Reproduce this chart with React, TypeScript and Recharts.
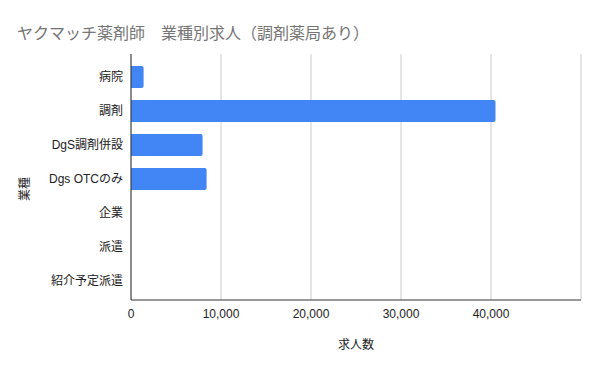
import * as React from 'react';
import { BarChart, Bar, XAxis, YAxis, CartesianGrid } from 'recharts';

const categories = ['病院', '調剤', 'DgS調剤併設', 'Dgs OTCのみ', '企業', '派遣', '紹介予定派遣'];
const jobCounts = [1400, 40500, 7950, 8400, 0, 0, 0];
const xTicks = [0, 10000, 20000, 30000, 40000, 50000];

const FONT = '"Liberation Sans", Arial, "Noto Sans CJK JP", sans-serif';

function formatTick(value: number): string {
  // the last gridline has no label in the original
  if (value === 50000) return '';
  return value.toLocaleString('en-US');
}

function YTitle() {
  // sits a bit below the plot's middle, as in the original
  return (
    <text
      x={25}
      y={189}
      transform="rotate(-90 25 189)"
      textAnchor="middle"
      dominantBaseline="central"
      fontSize={12}
      fill="#222"
      fontFamily={FONT}
    >
      業種
    </text>
  );
}

export default function App() {
  const data = categories.map((name, i) => ({ name, count: jobCounts[i] }));

  return (
    <div style={{ position: 'absolute', left: 0, top: 0, width: 600, height: 371, background: '#fff', fontFamily: FONT }}>
      <div
        style={{
          position: 'absolute',
          left: 17,
          top: 20,
          fontSize: 16,
          color: '#757575',
          fontFamily: FONT,
          whiteSpace: 'nowrap',
        }}
      >
        ヤクマッチ薬剤師　業種別求人（調剤薬局あり）
      </div>
      <BarChart
        width={600}
        height={371}
        data={data}
        layout="vertical"
        margin={{ top: 54, right: 19, left: 0, bottom: 0 }}
      >
        <CartesianGrid horizontal={false} stroke="#cccccc" />
        <XAxis
          type="number"
          domain={[0, 50000]}
          ticks={xTicks}
          tickFormatter={formatTick}
          height={71}
          tickLine={false}
          axisLine={{ stroke: '#333' }}
          tickMargin={3}
          tick={{ fontSize: 12, fill: '#222', fontFamily: FONT }}
          label={{ value: '求人数', position: 'insideBottom', offset: 22, fontSize: 12, fill: '#222', fontFamily: FONT }}
        />
        <YAxis
          type="category"
          dataKey="name"
          width={131}
          padding={{ top: 6, bottom: 2 }}
          tickLine={false}
          axisLine={{ stroke: '#333' }}
          tickMargin={2}
          interval={0}
          tick={{ fontSize: 12, fill: '#222', fontFamily: FONT }}
          label={{ value: '業種', content: () => <YTitle /> }}
        />
        <Bar dataKey="count" fill="#4285f4" barSize={22} radius={[0, 2, 2, 0]} isAnimationActive={false} />
      </BarChart>
    </div>
  );
}
